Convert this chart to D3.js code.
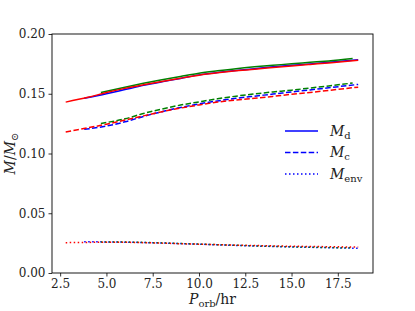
<!DOCTYPE html>
<html>
<head>
<meta charset="utf-8">
<script src="https://d3js.org/d3.v7.min.js"></script>
<style>
  body { margin: 0; background: #fff; }
</style>
</head>
<body>
<div id="chart"></div>
<script>
// orbital period (hr) and masses (Msun) for the three runs
const redP     = [2.8, 4, 5, 6, 7, 8, 9, 10, 11, 12, 13, 14, 15, 16, 17, 18.6];
const redMd    = [0.143, 0.147, 0.151, 0.1545, 0.1575, 0.1603, 0.163, 0.1655, 0.1675, 0.1692, 0.1706, 0.1719, 0.1732, 0.1745, 0.1758, 0.178];
const redMc    = [0.118, 0.1215, 0.1245, 0.128, 0.1315, 0.135, 0.138, 0.1406, 0.143, 0.1448, 0.1462, 0.1478, 0.1495, 0.151, 0.1528, 0.1555];
const redMenv  = [0.0254, 0.0256, 0.0258, 0.0257, 0.0254, 0.025, 0.0245, 0.0241, 0.0237, 0.0233, 0.023, 0.0227, 0.0224, 0.0222, 0.022, 0.0217];

const blueP    = [3.8, 5, 6, 7, 8, 9, 10, 11, 12, 13, 14, 15, 16, 17, 18.6];
const blueMd   = [0.1462, 0.150, 0.1535, 0.157, 0.160, 0.1628, 0.1658, 0.1678, 0.1695, 0.171, 0.1725, 0.1738, 0.175, 0.1763, 0.1785];
const blueMc   = [0.1202, 0.123, 0.1265, 0.131, 0.135, 0.1385, 0.1415, 0.144, 0.1462, 0.148, 0.1497, 0.1515, 0.1532, 0.155, 0.1578];
const blueMenv = [0.0262, 0.026, 0.0258, 0.0255, 0.0251, 0.0246, 0.0241, 0.0236, 0.0231, 0.0226, 0.0222, 0.0218, 0.0215, 0.0212, 0.0207];

const greenP    = [4.7, 6, 7, 8, 9, 10, 11, 12, 13, 14, 15, 16, 17, 18.3];
const greenMd   = [0.151, 0.1555, 0.1587, 0.1617, 0.1645, 0.1672, 0.1692, 0.171, 0.1725, 0.1738, 0.1751, 0.1763, 0.1775, 0.1795];
const greenMc   = [0.1252, 0.129, 0.1335, 0.1372, 0.1405, 0.1432, 0.1458, 0.148, 0.1498, 0.1515, 0.153, 0.1548, 0.1565, 0.159];
const greenMenv = [0.026, 0.0259, 0.0256, 0.0252, 0.0247, 0.0242, 0.0237, 0.0232, 0.0227, 0.0223, 0.0219, 0.0216, 0.0213, 0.021];

const xTicks = [2.5, 5.0, 7.5, 10.0, 12.5, 15.0, 17.5];
const yTicks = [0.00, 0.05, 0.10, 0.15, 0.20];

const runs = [
  { color: '#0000ff', p: blueP,  md: blueMd,  mc: blueMc,  menv: blueMenv },
  { color: '#008000', p: greenP, md: greenMd, mc: greenMc, menv: greenMenv },
  { color: '#ff0000', p: redP,   md: redMd,   mc: redMc,   menv: redMenv }
];
const styles = [
  { key: 'md',   dash: null,        label: 'd' },
  { key: 'mc',   dash: '5.5,2.4',   label: 'c' },
  { key: 'menv', dash: '1.5,2.5',   label: 'env' }
];

const serif = "'DejaVu Serif', serif";
const width = 415, height = 311;
const margin = { left: 52, right: 42, top: 34, bottom: 38 };
const innerW = width - margin.left - margin.right;
const innerH = height - margin.top - margin.bottom;

const svg = d3.select('#chart').append('svg')
  .attr('width', width).attr('height', height);
const g = svg.append('g')
  .attr('transform', `translate(${margin.left},${margin.top})`);

const x = d3.scaleLinear().domain([2.06, 19.4]).range([0, innerW]);
const y = d3.scaleLinear().domain([0, 0.2]).range([innerH, 0]);

const line = d3.line().x(d => x(d[0])).y(d => y(d[1])).curve(d3.curveMonotoneX);

runs.forEach(r => {
  styles.forEach(s => {
    g.append('path')
      .datum(r.p.map((p, i) => [p, r[s.key][i]]))
      .attr('d', line)
      .attr('fill', 'none')
      .attr('stroke', r.color)
      .attr('stroke-width', 1.5)
      .attr('stroke-dasharray', s.dash);
  });
});

// frame
g.append('rect')
  .attr('width', innerW).attr('height', innerH)
  .attr('fill', 'none').attr('stroke', '#000').attr('stroke-width', 0.9);

const xAxis = g.append('g').attr('transform', `translate(0,${innerH})`)
  .call(d3.axisBottom(x).tickValues(xTicks).tickFormat(d3.format('.1f')).tickSize(3.5).tickPadding(3));
const yAxis = g.append('g')
  .call(d3.axisLeft(y).tickValues(yTicks).tickFormat(d3.format('.2f')).tickSize(3.5).tickPadding(3));
[xAxis, yAxis].forEach(a => {
  a.attr('font-family', serif).attr('font-size', 12);
  a.select('.domain').remove();
  a.selectAll('.tick line').attr('stroke', '#000').attr('stroke-width', 0.8);
  a.selectAll('.tick text').attr('fill', '#222');
});

// axis labels
const xl = svg.append('text')
  .attr('x', margin.left + innerW / 2).attr('y', 304)
  .attr('text-anchor', 'middle').attr('font-family', serif).attr('font-size', 14).attr('fill', '#222');
xl.append('tspan').style('font-style', 'italic').text('P');
xl.append('tspan').attr('dy', 3).attr('font-size', 10).text('orb');
xl.append('tspan').attr('dy', -3).text('/hr');

const yl = svg.append('text')
  .attr('transform', `translate(15,${margin.top + innerH / 2}) rotate(-90)`)
  .attr('text-anchor', 'middle').attr('font-family', serif).attr('font-size', 14).attr('fill', '#222');
yl.append('tspan').style('font-style', 'italic').text('M');
yl.append('tspan').text('/');
yl.append('tspan').style('font-style', 'italic').text('M');
yl.append('tspan').attr('dy', 3).attr('font-size', 10).text('⊙');

// legend
const leg = svg.append('g').attr('font-family', serif).attr('fill', '#222');
styles.forEach((s, i) => {
  const ly = 131 + i * 21.5;
  leg.append('line')
    .attr('x1', 285).attr('x2', 318).attr('y1', ly).attr('y2', ly)
    .attr('stroke', '#0000ff').attr('stroke-width', 1.5)
    .attr('stroke-dasharray', s.dash);
  const t = leg.append('text').attr('x', 330).attr('y', ly + 4.5).attr('font-size', 14);
  t.append('tspan').style('font-style', 'italic').text('M');
  t.append('tspan').attr('dy', 3).attr('font-size', 10).text(s.label);
});
</script>
</body>
</html>
